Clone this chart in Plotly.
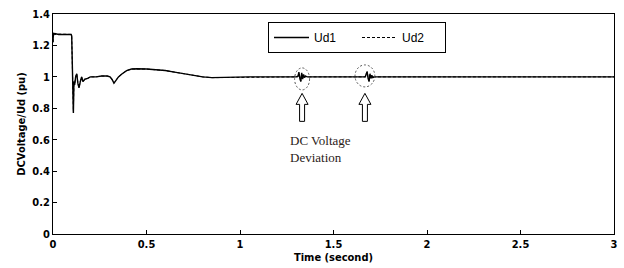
import plotly.graph_objects as go

# ---- data ----
t_ud1 = [0.0, 0.002, 0.006, 0.01, 0.03, 0.05, 0.07, 0.09, 0.097, 0.1, 0.104, 0.107, 0.109, 0.112,
         0.116, 0.121, 0.127, 0.133, 0.139, 0.146, 0.153, 0.16, 0.17, 0.185, 0.2, 0.23, 0.26, 0.29,
         0.305, 0.315, 0.326, 0.335, 0.35, 0.37, 0.394, 0.42, 0.45, 0.5, 0.55, 0.6, 0.65, 0.7, 0.75,
         0.8, 0.85, 0.9, 0.95, 1.0, 1.05, 1.1, 1.15, 1.2, 1.25, 1.3, 1.31, 1.315, 1.32, 1.325, 1.33,
         1.335, 1.34, 1.345, 1.35, 1.36, 1.38, 1.42, 1.5, 1.55, 1.6, 1.65, 1.67, 1.675, 1.68, 1.685,
         1.69, 1.695, 1.7, 1.705, 1.71, 1.72, 1.74, 1.8, 1.9, 2.0, 2.1, 2.2, 2.3, 2.4, 2.5, 2.6, 2.7,
         2.8, 2.9, 3.0]
ud1 = [1.22, 1.28, 1.27, 1.275, 1.27, 1.272, 1.27, 1.27, 1.27, 1.26, 0.95, 0.93, 0.77, 0.97,
       0.95, 1.0, 1.02, 0.96, 0.93, 0.97, 1.0, 0.97, 0.985, 0.99, 1.0, 1.0, 1.005, 1.005,
       1.0, 0.985, 0.96, 0.975, 1.0, 1.02, 1.04, 1.05, 1.052, 1.05, 1.045, 1.04, 1.03, 1.02, 1.01,
       1.0, 0.995, 0.997, 0.995, 0.998, 1.0, 1.0, 1.002, 1.0, 1.0, 1.0, 1.005, 1.03, 0.99, 0.97, 1.025,
       0.985, 1.015, 0.995, 1.005, 1.0, 1.0, 1.0, 1.002, 1.0, 1.0, 1.0, 1.0, 1.02, 1.03, 0.99,
       0.97, 1.02, 0.99, 1.01, 0.995, 1.0, 1.0, 1.0, 1.0, 1.0, 1.002, 1.0, 1.0, 1.0, 1.0, 1.0, 1.0,
       1.0, 1.0, 1.0]
t_ud2 = t_ud1
ud2 = [1.22, 1.28, 1.275, 1.27, 1.272, 1.27, 1.272, 1.27, 1.27, 1.26, 0.95, 0.93, 0.78, 0.97,
       0.95, 1.0, 1.02, 0.96, 0.93, 0.97, 1.0, 0.97, 0.985, 0.99, 1.0, 1.0, 1.005, 1.005,
       1.0, 0.985, 0.96, 0.975, 1.0, 1.02, 1.04, 1.05, 1.05, 1.05, 1.045, 1.04, 1.03, 1.02, 1.01,
       1.0, 0.995, 0.996, 0.996, 0.998, 1.0, 1.0, 1.0, 1.0, 1.0, 1.0, 1.0, 1.02, 0.995, 0.975, 1.02,
       0.99, 1.01, 0.995, 1.005, 1.0, 1.0, 1.0, 1.0, 1.0, 1.0, 1.0, 1.0, 1.015, 1.035, 0.995,
       0.975, 1.015, 0.995, 1.005, 1.0, 1.0, 1.0, 1.0, 1.0, 1.0, 1.0, 1.0, 1.0, 1.0, 1.0, 1.0, 1.0,
       1.0, 1.0, 1.0]
series_names = ["Ud1", "Ud2"]
x_ticks = [0, 0.5, 1, 1.5, 2, 2.5, 3]
x_tick_labels = ["0", "0.5", "1", "1.5", "2", "2.5", "3"]
y_ticks = [0, 0.2, 0.4, 0.6, 0.8, 1.0, 1.2, 1.4]
y_tick_labels = ["0", "0.2", "0.4", "0.6", "0.8", "1", "1.2", "1.4"]
deviation_times = [1.332, 1.668]
deviation_levels = [0.987, 1.006]
circle_half_widths = [0.04, 0.053]

fig = go.Figure()
fig.add_trace(go.Scatter(x=t_ud1, y=ud1, mode="lines", name=series_names[0],
                         line=dict(color="black", width=1.4)))
fig.add_trace(go.Scatter(x=t_ud2, y=ud2, mode="lines", name=series_names[1],
                         line=dict(color="black", width=1, dash="3px,2px")))

shapes = []
for xc, yc, rx in zip(deviation_times, deviation_levels, circle_half_widths):
    shapes.append(dict(type="circle", xref="x", yref="y", x0=xc - rx, x1=xc + rx,
                       y0=yc - 0.07, y1=yc + 0.07,
                       line=dict(color="#555", width=1, dash="2px,2px")))
# hollow upward arrows, pixel sized, anchored under each deviation
pts = [(0, 0), (6, -11), (2.5, -11), (2.5, -28), (-2.5, -28), (-2.5, -11), (-6, -11)]
arrow_path = "M " + " L ".join(f"{px} {py}" for px, py in pts) + " Z"
for xc in deviation_times:
    shapes.append(dict(type="path", xref="x", yref="y", xsizemode="pixel", ysizemode="pixel",
                       xanchor=xc, yanchor=0.895, path=arrow_path,
                       line=dict(color="black", width=1), fillcolor="white"))

axfont = dict(family="DejaVu Sans Condensed, Liberation Sans", size=11, weight="bold")
fig.update_layout(
    width=624, height=268,
    margin=dict(l=53, r=10, t=14, b=34, autoexpand=False),
    paper_bgcolor="white", plot_bgcolor="white",
    font=dict(family="Liberation Sans, Arial", color="black", size=11),
    showlegend=True,
    legend=dict(orientation="h", x=(268 - 53) / 561, y=(234 - 22) / 220, xanchor="left", yanchor="top",
                bordercolor="black", borderwidth=1, bgcolor="white",
                font=dict(size=12, family="Liberation Sans, Arial"), itemwidth=35,
                entrywidth=38, entrywidthmode="pixels"),
    xaxis=dict(range=[0, 3], tickvals=x_ticks, ticktext=x_tick_labels, automargin=False,
               ticks="inside", ticklen=4, tickcolor="black", showline=True,
               linecolor="black", linewidth=1, mirror=True, showgrid=False, zeroline=False,
               tickfont=axfont,
               title=dict(text="Time (second)", standoff=2, font=axfont)),
    yaxis=dict(range=[0, 1.4], tickvals=y_ticks, ticktext=y_tick_labels, automargin=False,
               ticks="inside", ticklen=4, tickcolor="black", showline=True,
               linecolor="black", linewidth=1, mirror=True, showgrid=False, zeroline=False,
               tickfont=axfont,
               title=dict(text="DCVoltage/Ud (pu)", standoff=4, font=axfont)),
    shapes=shapes,
    annotations=[dict(text="DC Voltage<br>Deviation", xref="paper", yref="paper",
                      x=(288 - 53) / 561, y=(234 - 131) / 220, xanchor="left", yanchor="top",
                      align="left", showarrow=False,
                      font=dict(family="Liberation Serif, Times New Roman", size=13, color="#2b2118"))],
)

fig.write_html("out.html", config={"displayModeBar": False},
               post_script="document.body.style.margin='0';document.body.style.overflow='hidden';")
